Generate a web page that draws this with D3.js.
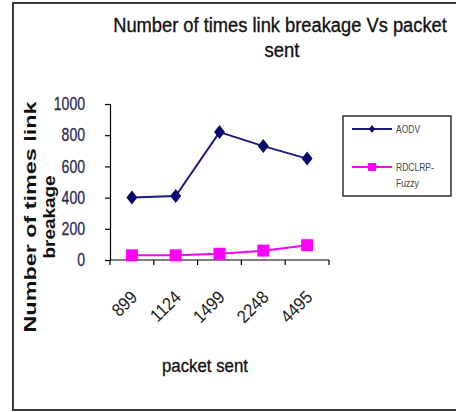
<!DOCTYPE html>
<html>
<head>
<meta charset="utf-8">
<script src="https://cdn.jsdelivr.net/npm/d3@7"></script>
<style>
  html, body { margin: 0; padding: 0; background: #fff; }
  svg { display: block; }
  text { font-family: "Liberation Sans", Arial, sans-serif; }
</style>
</head>
<body>
<svg id="chart" width="456" height="412"></svg>
<script>
// Packet counts on the x axis
const categories = ["899", "1124", "1499", "2248", "4495"];
// Number of link breakages per protocol
const aodv = [400, 410, 820, 730, 650];
const rdclrpFuzzy = [30, 30, 40, 60, 95];
const yTicks = [0, 200, 400, 600, 800, 1000];
const seriesNames = ["AODV", "RDCLRP-Fuzzy"];

const svg = d3.select("#chart");

// Squeeze a text element horizontally to mimic a narrow typeface
function narrow(sel, k) {
  sel.each(function () {
    const w = this.getComputedTextLength();
    d3.select(this).attr("textLength", w * k).attr("lengthAdjust", "spacingAndGlyphs");
  });
}

// Centered text scaled horizontally to a given width
function squeezedText(parent, cx, cy, width, str, size) {
  const g = parent.append("g");
  const t = g.append("text")
    .attr("x", 0).attr("y", 0)
    .attr("text-anchor", "middle")
    .attr("font-size", size).attr("fill", "#111")
    .attr("stroke", "#111").attr("stroke-width", 0.35)
    .text(str);
  const k = width / t.node().getComputedTextLength();
  g.attr("transform", `translate(${cx},${cy}) scale(${k},1)`);
  return t;
}

// Outer chart frame
svg.append("rect")
  .attr("x", 13).attr("y", 3)
  .attr("width", 460).attr("height", 407)
  .attr("fill", "#fff").attr("stroke", "#3a3a3a").attr("stroke-width", 2);

const x = d3.scaleBand().domain(categories).range([110, 329]);
const y = d3.scaleLinear().domain([0, 1000]).range([260, 104]);

// Y axis
const yAxis = svg.append("g")
  .attr("transform", "translate(110,0)")
  .call(d3.axisLeft(y).tickValues(yTicks).tickSize(5).tickPadding(20).tickFormat(d3.format("d")));
yAxis.select(".domain").attr("stroke", "#000").attr("stroke-width", 1.2);
yAxis.selectAll(".tick line").attr("stroke", "#000").attr("stroke-width", 1.2);
yAxis.selectAll(".tick text")
  .attr("font-size", 18)
  .attr("fill", "#2a2a55")
  .attr("stroke", "#2a2a55").attr("stroke-width", 0.3)
  .attr("font-family", "'Liberation Sans', Arial, sans-serif")
  .call(narrow, 0.78);

// X axis with ticks at the band edges
const xg = svg.append("g").attr("transform", "translate(0,260)");
xg.append("line")
  .attr("x1", 110).attr("x2", 329).attr("y1", 0).attr("y2", 0)
  .attr("stroke", "#000").attr("stroke-width", 1.2);
const edges = categories.map(c => x(c)).concat([x.range()[1]]);
xg.selectAll("line.tick").data(edges).enter().append("line")
  .attr("class", "tick")
  .attr("x1", d => d).attr("x2", d => d)
  .attr("y1", 0).attr("y2", 5)
  .attr("stroke", "#000").attr("stroke-width", 1.2);
xg.selectAll("text.cat").data(categories).enter().append("text")
  .attr("class", "cat")
  .attr("transform", d => `translate(${x(d) + x.bandwidth() / 2 + 2},${34}) rotate(-45)`)
  .attr("text-anchor", "end")
  .attr("dy", "0.35em")
  .attr("font-size", 18)
  .attr("fill", "#222")
  .text(d => d)
  .call(narrow, 0.9);

const cx = d => x(d) + x.bandwidth() / 2;
const line = d3.line().x((d, i) => cx(categories[i])).y(d => y(d));

// AODV series
svg.append("path").datum(aodv)
  .attr("d", line).attr("fill", "none")
  .attr("stroke", "#1a1a80").attr("stroke-width", 2);
svg.selectAll("path.diamond").data(aodv).enter().append("path")
  .attr("class", "diamond")
  .attr("d", "M0,-7 L5.5,0 L0,7 L-5.5,0 Z")
  .attr("transform", (d, i) => `translate(${cx(categories[i])},${y(d)})`)
  .attr("fill", "#0b0b6e");

// RDCLRP-Fuzzy series
svg.append("path").datum(rdclrpFuzzy)
  .attr("d", line).attr("fill", "none")
  .attr("stroke", "#ff00ff").attr("stroke-width", 2);
svg.selectAll("rect.sq").data(rdclrpFuzzy).enter().append("rect")
  .attr("class", "sq")
  .attr("x", (d, i) => cx(categories[i]) - 6)
  .attr("y", d => y(d) - 6)
  .attr("width", 12).attr("height", 12)
  .attr("fill", "#ff00ff");

// Title
squeezedText(svg, 280, 32, 334, "Number of times link breakage Vs packet", 21);
squeezedText(svg, 282, 57, 35, "sent", 21);

// Y axis title
const yt = svg.append("g").attr("transform", "translate(0,217) rotate(-90)");
yt.append("text").attr("x", 0).attr("y", 36)
  .attr("text-anchor", "middle")
  .attr("font-weight", "bold").attr("font-size", 16).attr("fill", "#111")
  .attr("textLength", 231).attr("lengthAdjust", "spacingAndGlyphs")
  .text("Number of times link");
yt.append("text").attr("x", 0).attr("y", 55)
  .attr("text-anchor", "middle")
  .attr("font-weight", "bold").attr("font-size", 16).attr("fill", "#111")
  .attr("textLength", 83).attr("lengthAdjust", "spacingAndGlyphs")
  .text("breakage");

// X axis title
squeezedText(svg, 205, 372, 86, "packet sent", 18).attr("stroke-width", 0.3);

// Legend
const lg = svg.append("g");
lg.append("rect")
  .attr("x", 343).attr("y", 116).attr("width", 108).attr("height", 80)
  .attr("fill", "#fff").attr("stroke", "#333").attr("stroke-width", 1.5);
lg.append("line").attr("x1", 352).attr("x2", 392).attr("y1", 129).attr("y2", 129)
  .attr("stroke", "#1a1a80").attr("stroke-width", 2);
lg.append("path").attr("d", "M0,-4 L3,0 L0,4 L-3,0 Z")
  .attr("transform", "translate(372,129)").attr("fill", "#0b0b6e");
lg.append("line").attr("x1", 352).attr("x2", 392).attr("y1", 167).attr("y2", 167)
  .attr("stroke", "#ff00ff").attr("stroke-width", 2);
lg.append("rect").attr("x", 368).attr("y", 163).attr("width", 8).attr("height", 8)
  .attr("fill", "#ff00ff");
lg.append("text").attr("x", 396).attr("y", 133)
  .attr("font-size", 10).attr("fill", "#444").text(seriesNames[0])
  .call(narrow, 0.85);
lg.append("text").attr("x", 396).attr("y", 171)
  .attr("font-size", 10).attr("fill", "#444").text("RDCLRP-")
  .call(narrow, 0.85);
lg.append("text").attr("x", 396).attr("y", 187)
  .attr("font-size", 10).attr("fill", "#444").text("Fuzzy")
  .call(narrow, 0.85);
</script>
</body>
</html>
